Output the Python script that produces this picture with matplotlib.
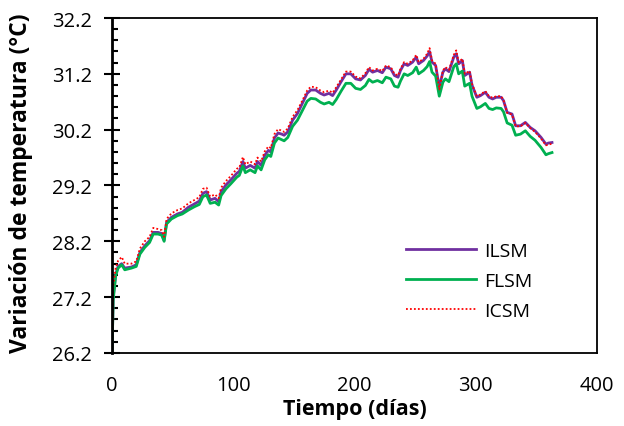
import numpy as np
import matplotlib
matplotlib.use("Agg")
import matplotlib.pyplot as plt
from matplotlib.ticker import MultipleLocator

# days
dias = [0, 1, 3, 5, 8, 10.5, 16, 20, 23, 27, 31, 34, 38, 41, 43, 45, 49, 54, 58, 63,
        68, 72, 75, 78, 81, 85, 88, 90, 94, 98, 103, 105, 108, 110, 114, 118, 120, 123, 126, 129,
        131, 134, 137, 140, 142, 145, 149, 153, 157, 161, 164, 168, 172, 175, 179, 182, 185, 189, 193, 197,
        201, 205, 209, 212, 215, 219, 223, 226, 230, 233, 236, 238, 241, 244, 248, 251, 253, 257, 260, 262,
        264, 267, 270, 273, 275, 278, 282, 284, 286, 289, 291, 295, 297, 301, 304, 308, 311, 314, 317, 321,
        323, 326, 330, 333, 337, 341, 345, 349, 354, 358, 360, 363]

ilsm = [26.2, 27.2, 27.6, 27.75, 27.8, 27.72, 27.74, 27.78, 28.0, 28.12, 28.21, 28.36, 28.36, 28.34, 28.22, 28.54, 28.63, 28.69, 28.72, 28.81,
        28.87, 28.92, 29.06, 29.09, 28.94, 28.97, 28.91, 29.09, 29.21, 29.3, 29.42, 29.45, 29.63, 29.51, 29.56, 29.51, 29.63, 29.56, 29.74, 29.83,
        29.8, 30.05, 30.14, 30.12, 30.1, 30.16, 30.37, 30.49, 30.67, 30.85, 30.91, 30.91, 30.85, 30.82, 30.85, 30.81, 30.91, 31.06, 31.2, 31.2,
        31.11, 31.09, 31.17, 31.28, 31.23, 31.26, 31.22, 31.32, 31.29, 31.17, 31.14, 31.26, 31.38, 31.35, 31.41, 31.5, 31.38, 31.44, 31.52, 31.6,
        31.41, 31.35, 30.96, 31.23, 31.29, 31.24, 31.5, 31.56, 31.38, 31.44, 31.17, 31.23, 31.0, 30.78, 30.81, 30.87, 30.78, 30.75, 30.78, 30.78,
        30.72, 30.51, 30.48, 30.27, 30.27, 30.33, 30.24, 30.18, 30.06, 29.94, 29.96, 29.97]

flsm = [26.2, 27.15, 27.58, 27.72, 27.78, 27.69, 27.72, 27.75, 27.97, 28.09, 28.18, 28.33, 28.33, 28.31, 28.2, 28.51, 28.6, 28.66, 28.69, 28.76,
        28.82, 28.86, 29.0, 29.03, 28.88, 28.9, 28.85, 29.02, 29.14, 29.23, 29.35, 29.38, 29.55, 29.43, 29.48, 29.43, 29.55, 29.48, 29.66, 29.75,
        29.72, 29.96, 30.05, 30.02, 30.0, 30.06, 30.26, 30.37, 30.54, 30.71, 30.76, 30.75, 30.69, 30.66, 30.69, 30.65, 30.74, 30.89, 31.03, 31.03,
        30.94, 30.92, 30.99, 31.1, 31.05, 31.08, 31.04, 31.14, 31.11, 30.98, 30.96, 31.07, 31.2, 31.17, 31.22, 31.32, 31.2, 31.26, 31.33, 31.42,
        31.23, 31.16, 30.8, 31.05, 31.11, 31.06, 31.33, 31.38, 31.2, 31.25, 30.98, 31.03, 30.8, 30.58, 30.61, 30.67, 30.58, 30.56, 30.59, 30.58,
        30.52, 30.32, 30.28, 30.1, 30.12, 30.18, 30.08, 30.01, 29.88, 29.75, 29.77, 29.79]

icsm = [26.2, 27.4, 27.72, 27.85, 27.92, 27.8, 27.8, 27.84, 28.07, 28.2, 28.28, 28.44, 28.42, 28.4, 28.28, 28.6, 28.7, 28.76, 28.79, 28.88,
        28.94, 28.99, 29.14, 29.16, 29.0, 29.04, 28.97, 29.16, 29.28, 29.37, 29.5, 29.52, 29.71, 29.58, 29.63, 29.58, 29.7, 29.63, 29.81, 29.9,
        29.87, 30.12, 30.21, 30.18, 30.16, 30.22, 30.43, 30.55, 30.72, 30.9, 30.97, 30.96, 30.9, 30.87, 30.9, 30.86, 30.96, 31.1, 31.24, 31.24,
        31.15, 31.12, 31.21, 31.32, 31.26, 31.29, 31.25, 31.35, 31.32, 31.2, 31.17, 31.29, 31.41, 31.38, 31.44, 31.54, 31.41, 31.47, 31.56, 31.66,
        31.44, 31.38, 30.92, 31.26, 31.32, 31.27, 31.54, 31.62, 31.41, 31.47, 31.2, 31.25, 31.02, 30.8, 30.83, 30.89, 30.8, 30.77, 30.8, 30.8,
        30.73, 30.5, 30.47, 30.26, 30.26, 30.32, 30.23, 30.16, 30.04, 29.92, 29.93, 29.95]

plt.rcParams['font.family'] = ['Open Sans', 'DejaVu Sans']

fig = plt.figure(figsize=(6.24, 4.27), dpi=100)
ax = fig.add_axes([0.1795, 0.171, 0.777, 0.7845])

ax.plot(dias, ilsm, color='#7030A0', lw=2.0, label='ILSM')
ax.plot(dias, flsm, color='#00B050', lw=2.0, label='FLSM')
ax.plot(dias, icsm, color='#FF0000', lw=1.3, ls=(0, (1, 1.2)), label='ICSM')

ax.set_xlim(0, 400)
ax.set_ylim(26.2, 32.2)
ax.xaxis.set_major_locator(MultipleLocator(100))
ax.yaxis.set_minor_locator(MultipleLocator(0.2))
ax.set_yticks(np.arange(26.2, 32.21, 1.0))
ax.set_yticklabels([f'{v:.1f}' for v in np.arange(26.2, 32.21, 1.0)])

ax.tick_params(axis='x', length=0, pad=16, labelsize=14.5)
ax.tick_params(axis='y', which='major', direction='inout', length=11, width=1.5, pad=9, labelsize=14.5)
ax.tick_params(axis='y', which='minor', direction='in', length=4, width=1.5)

for s in ax.spines.values():
    s.set_linewidth(1.3)
ax.spines['left'].set_linewidth(2)

ax.set_xlabel('Tiempo (días)', fontsize=15.5, fontweight='bold')
ax.set_ylabel('Variación de temperatura (°C)', fontsize=16.5, fontweight='bold')
ax.xaxis.set_label_coords(0.5, -0.135)
ax.yaxis.set_label_coords(-0.163, 0.51)

ax.legend(loc='center left', bbox_to_anchor=(0.57, 0.215), frameon=False, fontsize=14,
          handlelength=3.6, handletextpad=0.4, labelspacing=0.6)

fig.savefig('out.png', dpi=100)
